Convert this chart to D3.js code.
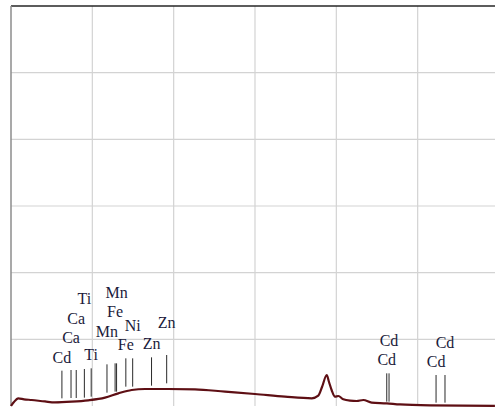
<!DOCTYPE html>
<html>
<head>
<meta charset="utf-8">
<script src="https://cdn.jsdelivr.net/npm/d3@7"></script>
<style>
    body { margin: 0; background: #fff; }
    svg { display: block; }
</style>
</head>
<body>
<svg id="spectrum" width="495" height="407"></svg>
<script>
// Spectrum (energy in keV, counts)
var energy = [0, 0.18, 0.45, 0.8, 1.27, 2.09, 2.7, 3.73, 4.75, 5.78, 6.6, 7.42, 8.24, 9.67,
    11.31, 13.16, 15.0, 16.84, 18.49, 18.89, 19.12, 19.41, 19.55, 19.71, 19.92, 20.12,
    20.43, 20.84, 21.25, 21.66, 22.17, 23.1, 23.91, 25.76, 29.75];
var counts = [0, 6, 11.5, 10, 9, 6.8, 5.5, 6.5, 8.5, 12.5, 19, 24, 25.5, 25.5,
    25, 21.5, 18, 14, 11.5, 15.5, 28.5, 46.5, 36, 24, 14, 15,
    10, 8, 7.5, 9, 5, 4, 2.3, 1, 0.3];

// Element line markers
var markerElements = ["Cd", "Ca", "Ca", "Ti", "Ti", "Mn", "Mn", "Fe", "Fe", "Ni", "Zn", "Zn", "Cd", "Cd", "Cd", "Cd"];
var markerEnergy = [3.13, 3.69, 4.01, 4.51, 4.93, 5.90, 6.49, 6.40, 7.06, 7.48, 8.64, 9.57, 23.1, 23.24, 26.13, 26.68];
var markerBottom = [11.5, 12, 12, 12.5, 14, 20, 21.5, 21.5, 29, 29, 30.5, 34, 6.5, 6.5, 5, 5];
var markerTop = [53, 54, 54, 55.5, 56.5, 62.5, 64, 64, 71.5, 71.5, 73, 76.5, 49, 49, 46.5, 46.5];

// Grid ticks
var xTicks = [0, 5, 10, 15, 20, 25, 30];
var yTicks = [0, 100, 200, 300, 400, 500, 600];

// label stacking level above each marker
var labelTier = [0, 1, 2, 3, 0, 1, 3, 2, 0, 1, 0, 1, 0, 1, 0, 1];

var svg = d3.select("#spectrum");
var x = d3.scaleLinear().domain([0, 30]).range([11, 499]);
var y = d3.scaleLinear().domain([0, 600]).range([406, 6]);

// Grid lines
svg.append("g").selectAll("line")
    .data(xTicks.slice(1))
    .enter().append("line")
    .attr("x1", d => x(d)).attr("x2", d => x(d))
    .attr("y1", y(600)).attr("y2", y(0))
    .attr("stroke", "#d3d3d3")
    .attr("stroke-width", 1.2);

svg.append("g").selectAll("line")
    .data(yTicks.slice(1, -1))
    .enter().append("line")
    .attr("x1", x(0)).attr("x2", x(30))
    .attr("y1", d => y(d)).attr("y2", d => y(d))
    .attr("stroke", "#d3d3d3")
    .attr("stroke-width", 1.2);

// Frame: dark top, grey left
svg.append("line")
    .attr("x1", x(0)).attr("x2", x(30))
    .attr("y1", y(600)).attr("y2", y(600))
    .attr("stroke", "#262626")
    .attr("stroke-width", 1.6);

svg.append("line")
    .attr("x1", x(0)).attr("x2", x(0))
    .attr("y1", y(600)).attr("y2", y(0))
    .attr("stroke", "#8c8c8c")
    .attr("stroke-width", 1.5);

// Marker lines
var markers = markerEnergy.map((e, i) => {
    return {el: markerElements[i], e: e, lo: markerBottom[i], hi: markerTop[i], tier: labelTier[i]};
});

svg.append("g").selectAll("line")
    .data(markers)
    .enter().append("line")
    .attr("x1", d => x(d.e)).attr("x2", d => x(d.e))
    .attr("y1", d => y(d.lo)).attr("y2", d => y(d.hi))
    .attr("stroke", "#2a2a2a")
    .attr("stroke-width", 1);

svg.append("g").selectAll("text")
    .data(markers)
    .enter().append("text")
    .attr("x", d => x(d.e))
    .attr("y", d => y(d.hi) - 8 - d.tier * 19)
    .attr("text-anchor", "middle")
    .style("font-family", "'Liberation Serif', 'Times New Roman', serif")
    .style("font-size", "16px")
    .attr("fill", "#1b1b3b")
    .text(d => d.el);

// Spectrum
var line = d3.line()
    .x((d, i) => x(energy[i]))
    .y(d => y(d))
    .curve(d3.curveMonotoneX);

svg.append("path")
    .datum(counts)
    .attr("d", line)
    .attr("fill", "none")
    .attr("stroke", "#5e0f14")
    .attr("stroke-width", 2.2)
    .attr("stroke-linejoin", "round");
</script>
</body>
</html>
